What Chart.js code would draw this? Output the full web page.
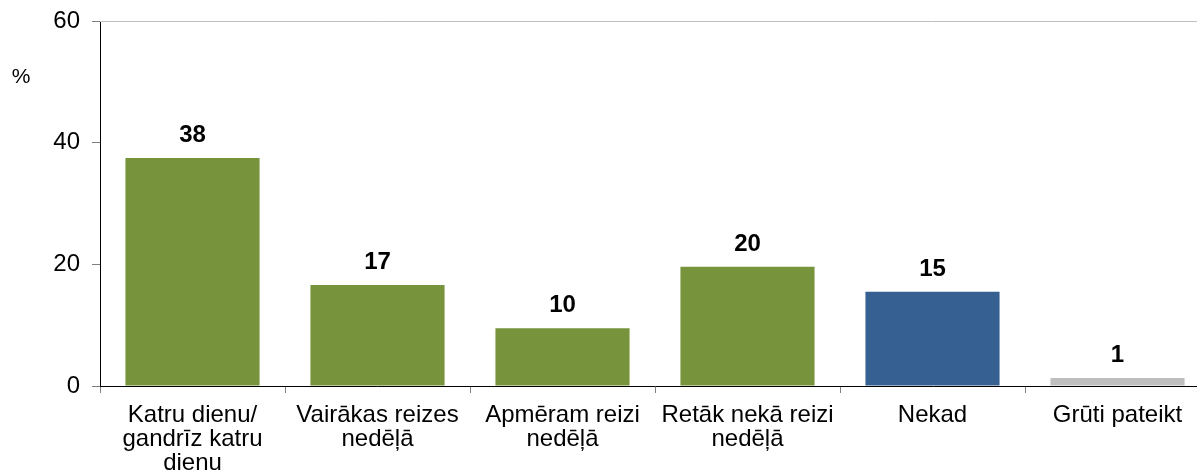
<!DOCTYPE html>
<html lang="lv">
<head>
    <meta charset="UTF-8">
    <title>Biežums</title>
    <script src="https://cdn.jsdelivr.net/npm/chart.js"></script>
    <style>
        body {
            margin: 0;
            padding: 0;
            background: #fff;
            overflow: hidden;
        }
        /* zīmējuma laukums iziet nedaudz ārpus loga, kā oriģinālā */
        #wrap {
            width: 1210px;
            height: 476px;
        }
    </style>
</head>
<body>
    <div id="wrap"><canvas id="barChart"></canvas></div>

    <script>
        // dati
        var categories = [
            ['Katru dienu/', 'gandrīz katru', 'dienu'],
            ['Vairākas reizes', 'nedēļā'],
            ['Apmēram reizi', 'nedēļā'],
            ['Retāk nekā reizi', 'nedēļā'],
            'Nekad',
            'Grūti pateikt'
        ];
        var values = [37.5, 16.6, 9.5, 19.6, 15.5, 1.3];
        var valueLabels = ['38', '17', '10', '20', '15', '1'];
        var barColors = ['#77933C', '#77933C', '#77933C', '#77933C', '#376092', '#BFBFBF'];
        var yTicks = [0, 20, 40, 60];
        var unitLabel = '%';

        var FONT = "'Liberation Sans', Arial, sans-serif";

        // vērtības virs stabiņiem + % zīme + augšējā līnija
        var extras = {
            id: 'extras',
            afterDatasetsDraw: function (chart) {
                var ctx = chart.ctx;
                var meta = chart.getDatasetMeta(0);
                var a = chart.chartArea;
                ctx.save();
                ctx.strokeStyle = '#BFBFBF';
                ctx.lineWidth = 1;
                ctx.beginPath();
                ctx.moveTo(a.left, a.top + 0.5);
                ctx.lineTo(a.right, a.top + 0.5);
                ctx.stroke();

                ctx.fillStyle = '#000';
                ctx.font = 'bold 24px ' + FONT;
                ctx.textAlign = 'center';
                ctx.textBaseline = 'alphabetic';
                meta.data.forEach(function (bar, i) {
                    ctx.fillText(valueLabels[i], bar.x, bar.y - 16);
                });
                ctx.font = '21px ' + FONT;
                ctx.textBaseline = 'middle';
                ctx.fillText(unitLabel, 21, 77);
                ctx.restore();
            }
        };

        new Chart(document.getElementById('barChart').getContext('2d'), {
            type: 'bar',
            data: {
                labels: categories,
                datasets: [{
                    data: values,
                    backgroundColor: barColors,
                    borderWidth: 0,
                    categoryPercentage: 1,
                    barPercentage: 0.725
                }]
            },
            options: {
                responsive: true,
                maintainAspectRatio: false,
                animation: false,
                layout: { padding: { top: 21, right: 0, left: 0, bottom: 0 } },
                plugins: {
                    legend: { display: false },
                    tooltip: { enabled: false }
                },
                scales: {
                    x: {
                        offset: true,
                        afterFit: function (axis) {
                            axis.height = 90;
                            axis.paddingLeft = 0;
                            axis.paddingRight = 0;
                        },
                        border: { color: '#000', width: 1 },
                        grid: {
                            offset: true,
                            drawOnChartArea: false,
                            drawTicks: true,
                            tickLength: 7,
                            color: '#808080'
                        },
                        ticks: {
                            color: '#000',
                            font: { family: FONT, size: 24, lineHeight: 1 },
                            maxRotation: 0,
                            autoSkip: false,
                            padding: 10
                        }
                    },
                    y: {
                        min: 0,
                        max: 60,
                        afterFit: function (axis) {
                            axis.width = 100;
                            axis.paddingTop = 0;
                            axis.paddingBottom = 0;
                        },
                        afterBuildTicks: function (axis) {
                            axis.ticks = yTicks.map(function (v) { return { value: v }; });
                        },
                        border: { color: '#000', width: 1 },
                        grid: {
                            drawOnChartArea: false,
                            drawTicks: true,
                            tickLength: 8,
                            color: '#808080'
                        },
                        ticks: {
                            color: '#000',
                            font: { family: FONT, size: 24 },
                            padding: 12
                        }
                    }
                }
            },
            plugins: [extras]
        });
    </script>
</body>
</html>
